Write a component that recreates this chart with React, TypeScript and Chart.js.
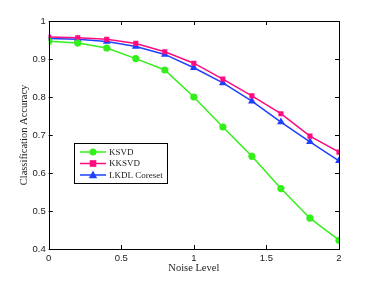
import React, { useEffect, useRef } from "react";
import { Chart, registerables } from "chart.js";

Chart.register(...registerables);

const noiseLevels = [0, 0.2, 0.4, 0.6, 0.8, 1.0, 1.2, 1.4, 1.6, 1.8, 2.0];
const ksvd = [0.947, 0.942, 0.929, 0.901, 0.871, 0.8, 0.721, 0.644, 0.559, 0.481, 0.423];
const kksvd = [0.958, 0.956, 0.952, 0.941, 0.919, 0.889, 0.847, 0.803, 0.756, 0.697, 0.655];
const lkdl = [0.954, 0.952, 0.946, 0.933, 0.912, 0.877, 0.837, 0.789, 0.734, 0.682, 0.632];
const seriesNames = ["KSVD", "KKSVD", "LKDL Coreset"];
const xTicks = [0, 0.5, 1, 1.5, 2];
const yTicks = [0.4, 0.5, 0.6, 0.7, 0.8, 0.9, 1];

const GREEN = "#33f01a";
const PINK = "#ff0a80";
const BLUE = "#2040ff";

function drawMarker(ctx: CanvasRenderingContext2D, style: string, x: number, y: number, r: number, color: string) {
  ctx.fillStyle = color;
  ctx.beginPath();
  if (style === "circle") {
    ctx.arc(x, y, r, 0, Math.PI * 2);
  } else if (style === "rect") {
    ctx.rect(x - r, y - r, 2 * r, 2 * r);
  } else {
    ctx.moveTo(x, y - r * 1.1);
    ctx.lineTo(x + r, y + r * 0.75);
    ctx.lineTo(x - r, y + r * 0.75);
    ctx.closePath();
  }
  ctx.fill();
}

const boxPlugin = {
  id: "matlabBox",
  afterDatasetsDraw(chart: any) {
    const { ctx, chartArea: a, scales } = chart;
    ctx.save();
    ctx.strokeStyle = "#000";
    ctx.lineWidth = 1;
    ctx.strokeRect(Math.round(a.left) + 0.5, Math.round(a.top) + 0.5, Math.round(a.right - a.left), Math.round(a.bottom - a.top));
    const t = 4;
    ctx.beginPath();
    xTicks.forEach((v) => {
      const x = Math.round(scales.x.getPixelForValue(v)) + 0.5;
      ctx.moveTo(x, a.bottom);
      ctx.lineTo(x, a.bottom - t);
      ctx.moveTo(x, a.top);
      ctx.lineTo(x, a.top + t);
    });
    yTicks.forEach((v) => {
      const y = Math.round(scales.y.getPixelForValue(v)) + 0.5;
      ctx.moveTo(a.left, y);
      ctx.lineTo(a.left + t, y);
      ctx.moveTo(a.right, y);
      ctx.lineTo(a.right - t, y);
    });
    ctx.stroke();

    // legend
    const lx = 74, ly = 143, lw = 93, lh = 40;
    ctx.fillStyle = "#fff";
    ctx.fillRect(lx, ly, lw, lh);
    ctx.strokeStyle = "#000";
    ctx.strokeRect(lx + 0.5, ly + 0.5, lw, lh);
    const colors = [GREEN, PINK, BLUE];
    const styles = ["circle", "rect", "triangle"];
    const radii = [3.5, 3.3, 4.2];
    ctx.font = "9px 'Liberation Serif'";
    ctx.textBaseline = "middle";
    ctx.textAlign = "left";
    seriesNames.forEach((name, i) => {
      const y = ly + 9 + i * 11.5;
      ctx.strokeStyle = colors[i];
      ctx.lineWidth = 1.5;
      ctx.beginPath();
      ctx.moveTo(lx + 6, y);
      ctx.lineTo(lx + 32, y);
      ctx.stroke();
      drawMarker(ctx, styles[i], lx + 19, y, radii[i], colors[i]);
      ctx.fillStyle = "#222";
      ctx.fillText(name, lx + 35, y + 0.5);
    });
    ctx.restore();
  },
};

export default function App() {
  const ref = useRef<HTMLCanvasElement>(null);
  useEffect(() => {
    document.body.style.margin = "0";
    const mk = (label: string, data: number[], color: string, style: string, r: number) => ({
      label,
      data: noiseLevels.map((x, i) => ({ x, y: data[i] })),
      borderColor: color,
      backgroundColor: color,
      pointBackgroundColor: color,
      pointBorderColor: color,
      pointBorderWidth: 0,
      borderWidth: 1.5,
      pointStyle: style,
      pointRadius: r,
      tension: 0,
    });
    const chart = new Chart(ref.current!, {
      type: "line",
      data: {
        datasets: [
          mk(seriesNames[0], ksvd, GREEN, "circle", 3.6),
          mk(seriesNames[1], kksvd, PINK, "rect", 3.6),
          mk(seriesNames[2], lkdl, BLUE, "triangle", 4.5),
        ],
      },
      options: {
        animation: false,
        responsive: false,
        layout: { padding: { top: 21, right: 35, left: 0, bottom: 0 } },
        plugins: { legend: { display: false }, tooltip: { enabled: false } },
        scales: {
          x: {
            type: "linear",
            min: 0,
            max: 2,
            afterBuildTicks: (s: any) => { s.ticks = xTicks.map((v) => ({ value: v })); },
            afterFit: (s: any) => { s.height = 32; },
            grid: { display: false, drawTicks: false },
            border: { display: false },
            ticks: {
              color: "#222",
              padding: 4,
              font: { family: "'Liberation Sans'", size: 9.5 },
              callback: (v: any) => String(v),
            },
            title: {
              display: true,
              text: "Noise Level",
              color: "#222",
              font: { family: "'Liberation Serif'", size: 10.5 },
              padding: { top: 0, bottom: 6 },
            },
          },
          y: {
            type: "linear",
            min: 0.4,
            max: 1,
            afterBuildTicks: (s: any) => { s.ticks = yTicks.map((v) => ({ value: v })); },
            afterFit: (s: any) => { s.width = 48.7; },
            grid: { display: false, drawTicks: false },
            border: { display: false },
            ticks: {
              color: "#222",
              padding: 3,
              font: { family: "'Liberation Sans'", size: 9.5 },
              callback: (v: any) => String(v),
            },
            title: {
              display: true,
              text: "Classification Accuracy",
              color: "#222",
              font: { family: "'Liberation Serif'", size: 10.5 },
              padding: { top: 18, bottom: 0 },
            },
          },
        },
      },
      plugins: [boxPlugin],
    });
    return () => chart.destroy();
  }, []);
  return (
    <div style={{ position: "absolute", left: 0, top: 0, width: 374, height: 281 }}>
      <canvas ref={ref} width={374} height={281} style={{ width: 374, height: 281, display: "block" }} />
    </div>
  );
}
